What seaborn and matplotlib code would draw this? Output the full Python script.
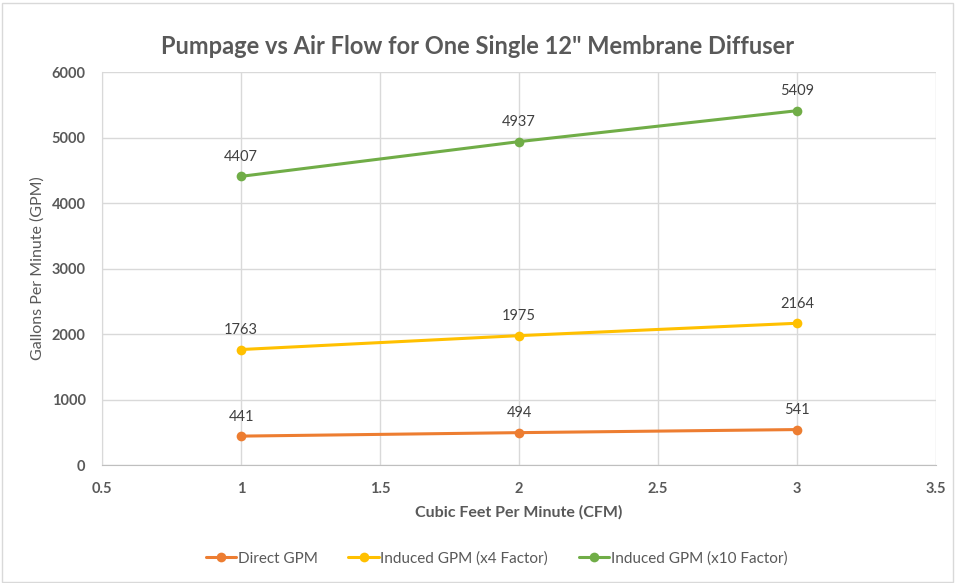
import matplotlib
matplotlib.use("Agg")
import matplotlib.pyplot as plt
import seaborn as sns
import pandas as pd

cfm = [1, 2, 3]
direct_gpm = [441, 494, 541]
induced_x4 = [1763, 1975, 2164]
induced_x10 = [4407, 4937, 5409]
series_names = ["Direct GPM", "Induced GPM (x4 Factor)", "Induced GPM (x10 Factor)"]
colors = ["#ED7D31", "#FFC000", "#70AD47"]

df = pd.DataFrame({
    "CFM": cfm * 3,
    "GPM": direct_gpm + induced_x4 + induced_x10,
    "Series": [n for n in series_names for _ in cfm],
})

sns.set_style("white")
plt.rcParams["font.family"] = ["Lato", "DejaVu Sans"]

fig = plt.figure(figsize=(9.55, 5.83), dpi=100)
ax = fig.add_axes([0.107, 0.2024, 0.873, 0.6741])

sns.lineplot(data=df, x="CFM", y="GPM", hue="Series", palette=colors,
             marker="o", markersize=7, markeredgewidth=0, linewidth=2.2, ax=ax)

# data labels
for vals in [direct_gpm, induced_x4, induced_x10]:
    for x, y in zip(cfm, vals):
        ax.annotate(str(y), (x, y), xytext=(0, 9), textcoords="offset points",
                    ha="center", va="bottom", fontsize=10.5, color="#404040")

ax.set_xlim(0.5, 3.5)
ax.set_ylim(0, 6000)
ax.set_xticks([0.5, 1, 1.5, 2, 2.5, 3, 3.5])
ax.set_xticklabels(["0.5", "1", "1.5", "2", "2.5", "3", "3.5"])
ax.set_yticks(range(0, 6001, 1000))
ax.tick_params(axis="both", labelsize=10.5, labelcolor="#595959", length=0, pad=12)
for lbl in ax.get_xticklabels() + ax.get_yticklabels():
    lbl.set_fontweight("bold")
ax.grid(True, color="#D9D9D9", linewidth=1)
for side in ["top", "right"]:
    ax.spines[side].set_visible(False)
ax.spines["left"].set_color("#D9D9D9")
ax.spines["bottom"].set_color("#BFBFBF")

ax.set_xlabel("Cubic Feet Per Minute (CFM)", fontsize=11.5, fontweight="bold",
              color="#595959", labelpad=7)
ax.set_ylabel("Gallons Per Minute (GPM)", fontsize=11.5, color="#595959", labelpad=5)

fig.suptitle("Pumpage vs Air Flow for One Single 12\" Membrane Diffuser",
             y=0.94, fontsize=17, fontweight="bold", color="#595959")

handles, labels = ax.get_legend_handles_labels()
ax.legend(handles, labels, loc="center", bbox_to_anchor=(0.52, 0.042),
          bbox_transform=fig.transFigure, ncol=3, frameon=False,
          fontsize=11, labelcolor="#595959", handlelength=2.0,
          handletextpad=0.1, columnspacing=2.0)

fig.patches.append(plt.Rectangle((0.002, 0.002), 0.996, 0.993, transform=fig.transFigure,
                                 fill=False, edgecolor="#D9D9D9", linewidth=1))

plt.savefig("out.png", dpi=100)
